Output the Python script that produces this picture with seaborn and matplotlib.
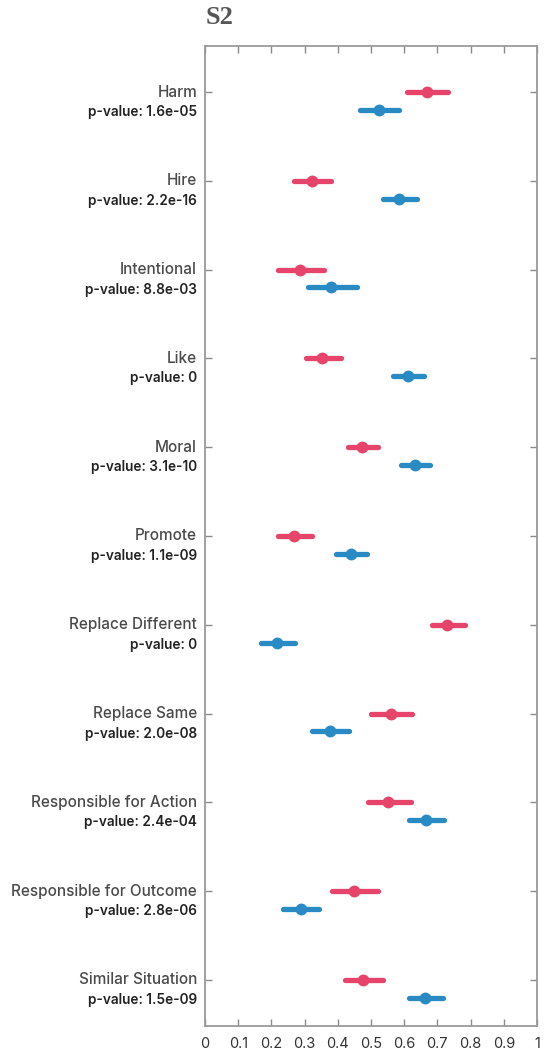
import numpy as np
import pandas as pd
import matplotlib
matplotlib.use("Agg")
import matplotlib.pyplot as plt
from matplotlib import transforms
import seaborn as sns

categories = ["Harm", "Hire", "Intentional", "Like", "Moral", "Promote",
              "Replace Different", "Replace Same", "Responsible for Action",
              "Responsible for Outcome", "Similar Situation"]
p_values = ["1.6e-05", "2.2e-16", "8.8e-03", "0", "3.1e-10", "1.1e-09",
            "0", "2.0e-08", "2.4e-04", "2.8e-06", "1.5e-09"]

red_mean = [0.668, 0.321, 0.286, 0.353, 0.472, 0.268, 0.730, 0.559, 0.552, 0.448, 0.477]
red_lo   = [0.607, 0.268, 0.220, 0.303, 0.430, 0.219, 0.685, 0.500, 0.492, 0.384, 0.423]
red_hi   = [0.733, 0.379, 0.358, 0.409, 0.522, 0.322, 0.783, 0.623, 0.620, 0.520, 0.537]

blue_mean = [0.524, 0.584, 0.381, 0.611, 0.633, 0.439, 0.218, 0.375, 0.666, 0.288, 0.664]
blue_lo   = [0.467, 0.537, 0.309, 0.567, 0.590, 0.395, 0.169, 0.321, 0.615, 0.235, 0.615]
blue_hi   = [0.585, 0.638, 0.457, 0.660, 0.678, 0.487, 0.271, 0.433, 0.721, 0.344, 0.717]

groups = ["A", "B"]
colors = {"A": "#e6446a", "B": "#2a8bc4"}
offsets = {"A": 0.0, "B": 0.2}

rows = []
for i, c in enumerate(categories):
    for g, m, lo, hi in (("A", red_mean[i], red_lo[i], red_hi[i]),
                         ("B", blue_mean[i], blue_lo[i], blue_hi[i])):
        for v in (lo, m, hi):
            rows.append({"category": c, "pos": i + offsets[g], "group": g, "value": v})
df = pd.DataFrame(rows)

sns.set_theme(style="white")
plt.rcParams["font.family"] = ["Inter", "DejaVu Sans"]

fig = plt.figure(figsize=(5.46, 10.53), dpi=100)
ax = fig.add_axes([205 / 546, 1 - 1026 / 1053, 332 / 546, 980 / 1053])

sns.pointplot(data=df, x="value", y="pos", hue="group", orient="h", native_scale=True,
              estimator=np.median, errorbar=lambda v: (np.min(v), np.max(v)),
              palette=colors, hue_order=groups, linestyle="none", markers="o",
              markersize=6.5, err_kws={"linewidth": 3.8}, legend=False, ax=ax)

ax.set_xlim(0, 1)
ax.set_ylim(len(categories) - 0.48, -0.52)
ax.set_xticks(np.round(np.arange(0, 1.01, 0.1), 1))
ax.set_xticklabels(["0"] + [f"{v:.1f}" for v in np.arange(0.1, 0.95, 0.1)] + ["1"])
ax.set_yticks(range(len(categories)))
ax.set_yticklabels([])
ax.set_xlabel("")
ax.set_ylabel("")
ax.tick_params(axis="x", direction="in", top=True, bottom=True, length=5, width=1,
               color="#8a8a8a", labelsize=10.5, labelcolor="#333333", pad=8)
ax.tick_params(axis="y", direction="in", left=True, right=True, length=5, width=1,
               color="#8a8a8a")
for s in ax.spines.values():
    s.set_color("#9a9a9a")
    s.set_linewidth(1.3)

trans = transforms.blended_transform_factory(ax.transAxes, ax.transData)
for i, (c, p) in enumerate(zip(categories, p_values)):
    ax.text(-0.024, i, c, transform=trans, ha="right", va="center",
            fontsize=11, color="#4a4a4a", fontweight="medium")
    ax.text(-0.024, i + 0.225, f"p-value: {p}", transform=trans, ha="right", va="center",
            fontsize=9.8, color="#222222", fontweight="semibold")

fig.text(206 / 546, 1 - 17 / 1053, "S2", family=["Liberation Serif", "DejaVu Serif"],
         fontweight="bold", fontsize=19, color="#555555", va="center", ha="left")

fig.savefig("out.png", dpi=100)
